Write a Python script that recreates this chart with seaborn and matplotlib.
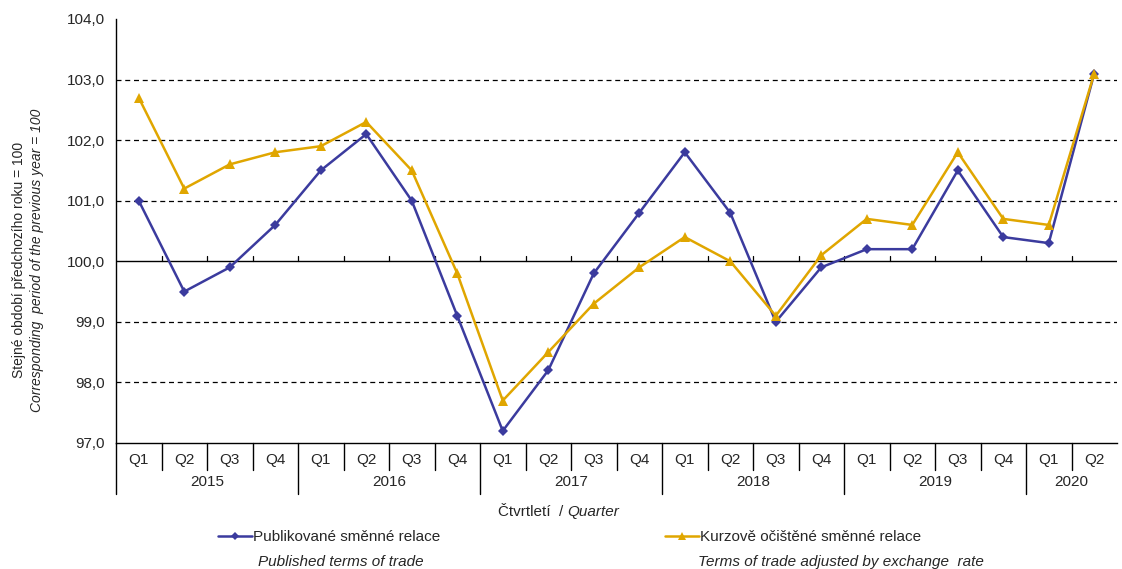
import numpy as np
import pandas as pd
import matplotlib
matplotlib.use("Agg")
import matplotlib.pyplot as plt
import matplotlib.transforms as mtransforms
from matplotlib.lines import Line2D
import seaborn as sns

# Data
years = ["2015", "2016", "2017", "2018", "2019", "2020"]
quarters = ["Q1", "Q2", "Q3", "Q4"] * 5 + ["Q1", "Q2"]
published = [101.0, 99.5, 99.9, 100.6,
             101.5, 102.1, 101.0, 99.1,
             97.2, 98.2, 99.8, 100.8,
             101.8, 100.8, 99.0, 99.9,
             100.2, 100.2, 101.5, 100.4,
             100.3, 103.1]
adjusted = [102.7, 101.2, 101.6, 101.8,
            101.9, 102.3, 101.5, 99.8,
            97.7, 98.5, 99.3, 99.9,
            100.4, 100.0, 99.1, 100.1,
            100.7, 100.6, 101.8, 100.7,
            100.6, 103.1]

name_pub = "Publikované směnné relace"
name_adj = "Kurzově očištěné směnné relace"
blue = "#3B3B9E"
gold = "#E0A600"
fs = 11

n = len(quarters)
df_pub = pd.DataFrame({"idx": range(n), "value": published})
df_adj = pd.DataFrame({"idx": range(n), "value": adjusted})

sns.set_style("white")
plt.rcParams["font.family"] = ["Liberation Sans", "DejaVu Sans"]

fig = plt.figure(figsize=(11.22, 5.69), dpi=100)
ax = fig.add_axes([116 / 1122, 1 - 443 / 569, (1117 - 116) / 1122, (443 - 19) / 569])

sns.lineplot(data=df_adj, x="idx", y="value", color=gold, marker="^",
             markersize=7, linewidth=1.8, markeredgewidth=0, ax=ax, zorder=3)
sns.lineplot(data=df_pub, x="idx", y="value", color=blue, marker="D",
             markersize=5, linewidth=1.8, markeredgewidth=0, ax=ax, zorder=2)

ax.set_xlim(-0.5, n - 0.5)
ax.set_ylim(97, 104)
ticks = np.arange(97, 104.1, 1)
ax.set_yticks(ticks)
ax.set_yticklabels([f"{v:.1f}".replace(".", ",") for v in ticks], fontsize=fs)
ax.tick_params(axis="y", length=5, width=1, color="black", pad=3)
ax.set_xticks([])
ax.set_xlabel("")
ax.set_ylabel("")

for v in [98, 99, 101, 102, 103]:
    ax.axhline(v, color="black", lw=0.9, ls=(0, (4, 3)), zorder=0)
ax.axhline(100, color="black", lw=1.0, zorder=0)

for s in ["top", "right"]:
    ax.spines[s].set_visible(False)
for s in ["left", "bottom"]:
    ax.spines[s].set_color("black")
    ax.spines[s].set_linewidth(1)

# small ticks on the 100 line at category boundaries
for b in range(1, n):
    ax.plot([b - 0.5, b - 0.5], [100, 100.08], color="black", lw=0.9, zorder=1)

# category table below the axes
trans = mtransforms.blended_transform_factory(ax.transData, fig.transFigure)
y0 = 1 - 443 / 569
for i, q in enumerate(quarters):
    ax.text(i, 1 - 460 / 569, q, transform=trans, ha="center", va="center", fontsize=fs)
year_starts = [0, 4, 8, 12, 16, 20]
year_ends = [4, 8, 12, 16, 20, 22]
for b in range(1, n):
    if b in year_starts:
        continue
    ax.add_line(Line2D([b - 0.5, b - 0.5], [y0, 1 - 470 / 569], transform=trans,
                       color="black", lw=1, clip_on=False))
for s in year_starts:
    ax.add_line(Line2D([s - 0.5, s - 0.5], [y0, 1 - 494 / 569], transform=trans,
                       color="black", lw=1, clip_on=False))
for yr, s, e in zip(years, year_starts, year_ends):
    ax.text((s + e - 1) / 2, 1 - 482 / 569, yr, transform=trans, ha="center", va="center", fontsize=fs)

# axis titles
fig.text(567 / 1122, 1 - 512 / 569, "Čtvrtletí  / ", ha="right", va="center", fontsize=fs)
fig.text(567 / 1122, 1 - 512 / 569, "Quarter", ha="left", va="center", fontsize=fs, style="italic")
fig.text(19 / 1122, 1 - 260 / 569, "Stejné období předchozího roku = 100", rotation=90,
         ha="center", va="center", fontsize=10)
fig.text(37 / 1122, 1 - 260 / 569, "Corresponding  period of the previous year = 100", rotation=90,
         ha="center", va="center", fontsize=10, style="italic")

# legend
h_pub = Line2D([], [], color=blue, lw=1.8, marker="D", markersize=4, markeredgewidth=0)
h_adj = Line2D([], [], color=gold, lw=1.8, marker="^", markersize=6, markeredgewidth=0)
for h, lab, x in [(h_pub, name_pub, 218), (h_adj, name_adj, 665)]:
    fig.legend([h], [lab], loc="center left", bbox_to_anchor=(x / 1122, 1 - 537 / 569),
               frameon=False, fontsize=fs, handlelength=2.2, handletextpad=0.1,
               borderpad=0, borderaxespad=0)
fig.text(258 / 1122, 1 - 562 / 569, "Published terms of trade", ha="left", va="center",
         fontsize=fs, style="italic")
fig.text(698 / 1122, 1 - 562 / 569, "Terms of trade adjusted by exchange  rate", ha="left", va="center",
         fontsize=fs, style="italic")

fig.savefig("out.png", dpi=100)
